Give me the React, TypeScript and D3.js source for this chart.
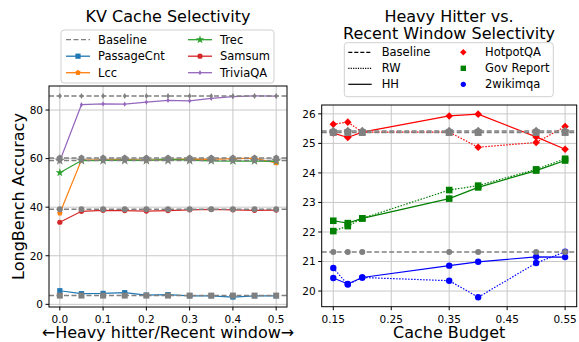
// KV cache selectivity + heavy hitter vs recent window panels
import * as d3 from 'd3'

const FONT = '"DejaVu Sans", sans-serif'

// left panel data
const ratios = [0, 0.05, 0.1, 0.15, 0.2, 0.25, 0.3, 0.35, 0.4, 0.45, 0.5]
const passageCnt = [5.6, 4.4, 4.5, 4.8, 3.8, 4.0, 3.5, 3.5, 3.0, 3.5, 3.5]
const lcc = [37.5, 59.4, 59.5, 59.6, 59.4, 59.6, 59.8, 59.7, 60.0, 60.2, 58.2]
const trec = [54.2, 59.2, 59.3, 59.4, 59.3, 59.6, 59.4, 59.1, 59.0, 59.0, 58.9]
const samsum = [33.8, 38.3, 38.7, 38.6, 38.4, 38.6, 38.9, 39.1, 38.9, 38.7, 38.8]
const triviaqa = [59.0, 82.2, 82.5, 82.4, 83.3, 84.0, 83.8, 84.8, 85.5, 85.8, 85.7]
const leftBaselines = { passageCnt: 3.6, lcc: 60.3, trec: 59.2, samsum: 39.1, triviaqa: 85.8 }
const leftYTicks = [0, 20, 40, 60, 80]
const leftXTicks = [0, 0.1, 0.2, 0.3, 0.4, 0.5]

// right panel data
const budgets = [0.15, 0.175, 0.2, 0.35, 0.4, 0.5, 0.55]
const hotpotHH = [25.35, 25.2, 25.38, 25.93, 25.99, 25.22, 24.8]
const hotpotRW = [25.65, 25.72, 25.38, 25.38, 24.87, 25.03, 25.57]
const govHH = [22.38, 22.3, 22.46, 23.13, 23.51, 24.08, 24.42]
const govRW = [22.03, 22.2, 22.46, 23.42, 23.57, 24.12, 24.48]
const wikiHH = [20.44, 20.24, 20.46, 20.86, 20.99, 21.16, 21.15]
const wikiRW = [20.78, 20.22, 20.46, 20.35, 19.79, 20.95, 21.33]
const rightBaselines = { hotpot: 25.42, gov: 25.37, wiki: 21.32 }
const rightYTicks = [20, 21, 22, 23, 24, 25, 26]
const rightXTicks = [0.15, 0.25, 0.35, 0.45, 0.55]

const GRAY = '#808080'
const GRID = '#c8c8c8'

type Shape = 'square' | 'pentagon' | 'star' | 'circle' | 'thinDiamond' | 'diamond'

// marker path centered at 0,0 with given half-size r
function marker(shape: Shape, r: number): string {
  if (shape === 'square') return `M${-r},${-r}H${r}V${r}H${-r}Z`
  if (shape === 'diamond') return `M0,${-r}L${r},0L0,${r}L${-r},0Z`
  if (shape === 'thinDiamond') return `M0,${-r}L${r * 0.6},0L0,${r}L${-r * 0.6},0Z`
  if (shape === 'circle') return d3.symbol(d3.symbolCircle, Math.PI * r * r)()!
  if (shape === 'star') return d3.symbol(d3.symbolStar, r * r * 3.2)()!
  const pts = d3.range(5).map(i => {
    const a = -Math.PI / 2 + (i * 2 * Math.PI) / 5
    return [r * 1.1 * Math.cos(a), r * 1.1 * Math.sin(a)]
  })
  return 'M' + pts.map(p => p.join(',')).join('L') + 'Z'
}

const leftSeries = [
  { name: 'PassageCnt', values: passageCnt, base: leftBaselines.passageCnt, color: '#1f77b4', shape: 'square' as Shape },
  { name: 'Lcc', values: lcc, base: leftBaselines.lcc, color: '#ff7f0e', shape: 'pentagon' as Shape },
  { name: 'Trec', values: trec, base: leftBaselines.trec, color: '#2ca02c', shape: 'star' as Shape },
  { name: 'Samsum', values: samsum, base: leftBaselines.samsum, color: '#d62728', shape: 'circle' as Shape },
  { name: 'TriviaQA', values: triviaqa, base: leftBaselines.triviaqa, color: '#9467bd', shape: 'thinDiamond' as Shape },
]

const rightSeries = [
  { name: 'HotpotQA', hh: hotpotHH, rw: hotpotRW, base: rightBaselines.hotpot, color: '#ff0000', shape: 'diamond' as Shape, r: 3.8, br: 4.2 },
  { name: 'Gov Report', hh: govHH, rw: govRW, base: rightBaselines.gov, color: '#008000', shape: 'square' as Shape, r: 3.3, br: 3.5 },
  { name: '2wikimqa', hh: wikiHH, rw: wikiRW, base: rightBaselines.wiki, color: '#0000ff', shape: 'circle' as Shape, r: 3.2, br: 3.0 },
]

function LeftPanel() {
  const L = 49, R = 287, T = 86, B = 307
  const x = d3.scaleLinear().domain([-0.025, 0.525]).range([L, R])
  const y = d3.scaleLinear().domain([-1.1, 89.9]).range([B, T])
  const line = d3.line<number>().x((_, i) => x(ratios[i])).y(d => y(d))

  return (
    <g>
      <text x={168} y={22} textAnchor="middle" fontSize={16} fontFamily={FONT}>KV Cache Selectivity</text>
      {leftXTicks.map(t => (
        <line key={'gx' + t} x1={x(t)} x2={x(t)} y1={T} y2={B} stroke={GRID} strokeWidth={1} />
      ))}
      {leftYTicks.map(t => (
        <line key={'gy' + t} x1={L} x2={R} y1={y(t)} y2={y(t)} stroke={GRID} strokeWidth={1} />
      ))}
      {leftSeries.map(s => (
        <g key={s.name}>
          <path d={line(s.values)!} fill="none" stroke={s.color} strokeWidth={1.2} />
          {s.values.map((v, i) => (
            <path key={i} d={marker(s.shape, 2.6)} transform={`translate(${x(ratios[i])},${y(v)})`} fill={s.color} />
          ))}
        </g>
      ))}
      {leftSeries.map(s => (
        <g key={'b' + s.name}>
          <line x1={L} x2={R} y1={y(s.base)} y2={y(s.base)} stroke={GRAY} strokeWidth={1.5} strokeDasharray="5,2.5" />
          {ratios.map((r, i) => (
            <path key={i} d={marker(s.shape, 3)} transform={`translate(${x(r)},${y(s.base)})`} fill={GRAY} />
          ))}
        </g>
      ))}
      <rect x={L} y={T} width={R - L} height={B - T} fill="none" stroke="#000" strokeWidth={1} />
      {leftYTicks.map(t => (
        <g key={'ty' + t}>
          <line x1={L - 3.5} x2={L} y1={y(t)} y2={y(t)} stroke="#000" />
          <text x={L - 6} y={y(t)} dy="0.36em" textAnchor="end" fontSize={10.5} fontFamily={FONT}>{t}</text>
        </g>
      ))}
      {leftXTicks.map(t => (
        <g key={'tx' + t}>
          <line x1={x(t)} x2={x(t)} y1={B} y2={B + 3.5} stroke="#000" />
          <text x={x(t)} y={322.5} textAnchor="middle" fontSize={10.5} fontFamily={FONT}>{t.toFixed(1)}</text>
        </g>
      ))}
      <text transform={`translate(24,${(T + B) / 2}) rotate(-90)`} textAnchor="middle" fontSize={16} fontFamily={FONT}>LongBench Accuracy</text>
      <text x={(L + R) / 2} y={338} textAnchor="middle" fontSize={16} fontFamily={FONT}>←Heavy hitter/Recent window→</text>

      {/* legend */}
      <rect x={61} y={30} width={213} height={53} rx={3} fill="#fff" fillOpacity={0.8} stroke="#d0d0d0" />
      {[
        { name: 'Baseline', color: GRAY, dash: '5,2.5', shape: null as Shape | null },
        ...leftSeries.map(s => ({ name: s.name, color: s.color, dash: '', shape: s.shape as Shape | null })),
      ].map((e, i) => {
        const col = i < 3 ? 0 : 1
        const row = i % 3
        const lx = col === 0 ? 66 : 188
        const ly = 39.7 + row * 16.5
        return (
          <g key={e.name}>
            <line x1={lx} x2={lx + 24} y1={ly} y2={ly} stroke={e.color} strokeWidth={1.3} strokeDasharray={e.dash || undefined} />
            {e.shape && <path d={marker(e.shape, 2.6)} transform={`translate(${lx + 12},${ly})`} fill={e.color} />}
            <text x={lx + 32} y={ly} dy="0.36em" fontSize={11.5} fontFamily={FONT}>{e.name}</text>
          </g>
        )
      })}
    </g>
  )
}

function RightPanel() {
  const L = 321.7, R = 576.7, T = 105, B = 306.7
  const x = d3.scaleLinear().domain([0.13, 0.57]).range([L, R])
  const y = d3.scaleLinear().domain([19.47, 26.3]).range([B, T])
  const line = d3.line<number>().x((_, i) => x(budgets[i])).y(d => y(d))

  return (
    <g>
      <text x={449} y={21.7} textAnchor="middle" fontSize={16} fontFamily={FONT}>Heavy Hitter vs.</text>
      <text x={449} y={39.3} textAnchor="middle" fontSize={16} fontFamily={FONT}>Recent Window Selectivity</text>
      {rightXTicks.map(t => (
        <line key={'gx' + t} x1={x(t)} x2={x(t)} y1={T} y2={B} stroke={GRID} strokeWidth={1} />
      ))}
      {rightYTicks.map(t => (
        <line key={'gy' + t} x1={L} x2={R} y1={y(t)} y2={y(t)} stroke={GRID} strokeWidth={1} />
      ))}
      {rightSeries.map(s => (
        <g key={s.name}>
          <path d={line(s.rw)!} fill="none" stroke={s.color} strokeWidth={1.2} strokeDasharray="1.5,1.5" />
          <path d={line(s.hh)!} fill="none" stroke={s.color} strokeWidth={1.2} />
          {s.rw.map((v, i) => (
            <path key={'rw' + i} d={marker(s.shape, s.r)} transform={`translate(${x(budgets[i])},${y(v)})`} fill={s.color} />
          ))}
          {s.hh.map((v, i) => (
            <path key={'hh' + i} d={marker(s.shape, s.r)} transform={`translate(${x(budgets[i])},${y(v)})`} fill={s.color} />
          ))}
        </g>
      ))}
      {rightSeries.map(s => (
        <g key={'b' + s.name}>
          <line x1={L} x2={R} y1={y(s.base)} y2={y(s.base)} stroke={GRAY} strokeWidth={1.4} strokeDasharray="5,2.5" />
          {budgets.map((b, i) => (
            <path key={i} d={marker(s.shape, s.br)} transform={`translate(${x(b)},${y(s.base)})`} fill={GRAY} />
          ))}
        </g>
      ))}
      <rect x={L} y={T} width={R - L} height={B - T} fill="none" stroke="#000" strokeWidth={1} />
      {rightYTicks.map(t => (
        <g key={'ty' + t}>
          <line x1={L - 3.5} x2={L} y1={y(t)} y2={y(t)} stroke="#000" />
          <text x={L - 6} y={y(t)} dy="0.36em" textAnchor="end" fontSize={10.5} fontFamily={FONT}>{t}</text>
        </g>
      ))}
      {rightXTicks.map(t => (
        <g key={'tx' + t}>
          <line x1={x(t)} x2={x(t)} y1={B} y2={B + 3.5} stroke="#000" />
          <text x={x(t)} y={322.5} textAnchor="middle" fontSize={10.5} fontFamily={FONT}>{t.toFixed(2)}</text>
        </g>
      ))}
      <text x={(L + R) / 2} y={338} textAnchor="middle" fontSize={16} fontFamily={FONT}>Cache Budget</text>

      {/* legend */}
      <rect x={344.3} y={42.7} width={209} height={54} rx={3} fill="#fff" fillOpacity={0.8} stroke="#d0d0d0" />
      {[
        { name: 'Baseline', dash: '4,2' },
        { name: 'RW', dash: '1.2,1.2' },
        { name: 'HH', dash: '' },
      ].map((e, i) => {
        const ly = 52.3 + i * 16
        return (
          <g key={e.name}>
            <line x1={348.3} x2={371.7} y1={ly} y2={ly} stroke="#000" strokeWidth={1.2} strokeDasharray={e.dash || undefined} />
            <text x={381.7} y={ly} dy="0.36em" fontSize={11.5} fontFamily={FONT}>{e.name}</text>
          </g>
        )
      })}
      {rightSeries.map((s, i) => {
        const ly = 52.3 + i * 16
        return (
          <g key={'lg' + s.name}>
            <path d={marker(s.shape, s.r - 0.6)} transform={`translate(463.3,${ly})`} fill={s.color} />
            <text x={485} y={ly} dy="0.36em" fontSize={11.5} fontFamily={FONT}>{s.name}</text>
          </g>
        )
      })}
    </g>
  )
}

export default function App() {
  return (
    <svg width={579} height={342} style={{ position: 'absolute', left: 0, top: 0, background: '#fff' }}>
      <rect width={579} height={342} fill="#fff" />
      <LeftPanel />
      <RightPanel />
    </svg>
  )
}
